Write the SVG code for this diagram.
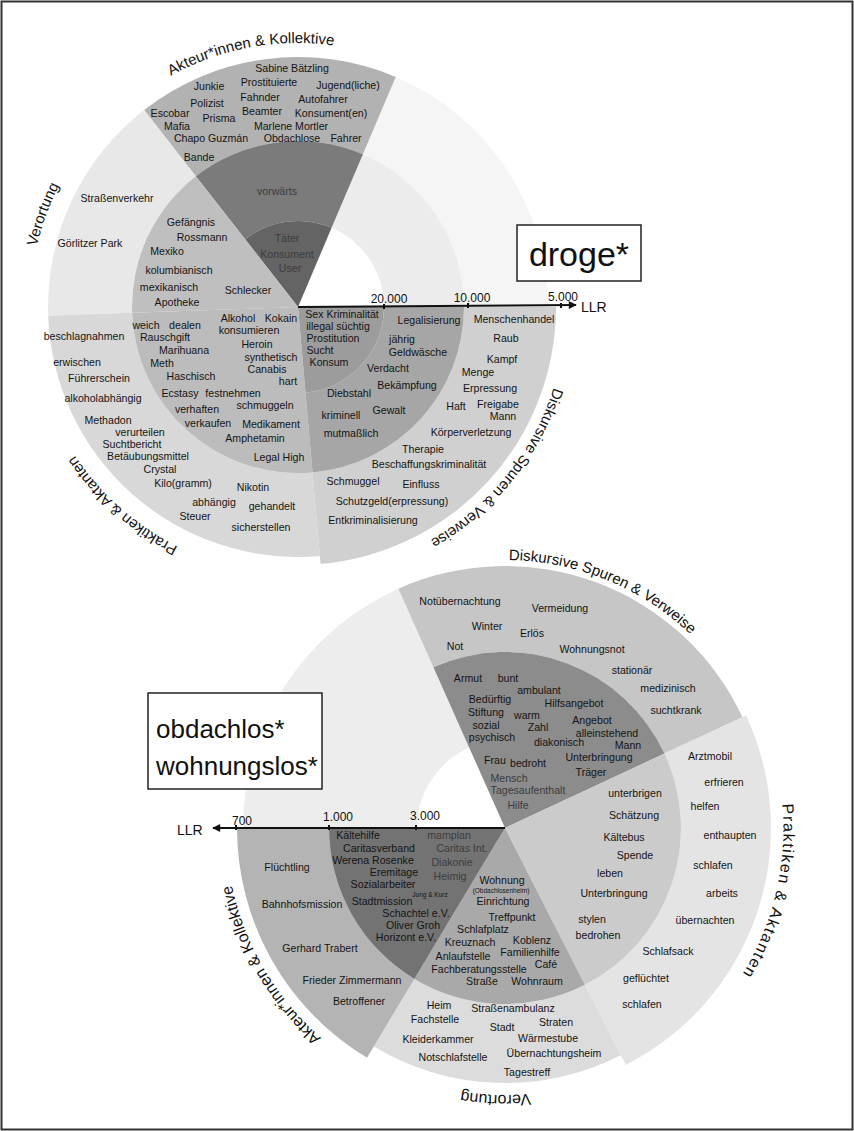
<svg xmlns="http://www.w3.org/2000/svg" width="854" height="1131" viewBox="0 0 854 1131">
<style>
.t{font-family:"Liberation Sans",Arial,sans-serif;font-size:10.6px;text-anchor:middle;fill:#141414}
.dim{fill:#3c3c3c}
.sm{font-size:6.5px}
.lab{font-family:"Liberation Sans",Arial,sans-serif;font-size:15px;fill:#111}
.lab2{font-family:"Liberation Sans",Arial,sans-serif;font-size:16px;fill:#111}
.ax{font-family:"Liberation Sans",Arial,sans-serif;font-size:12px;text-anchor:middle;fill:#111}
.llr{font-family:"Liberation Sans",Arial,sans-serif;font-size:14px;fill:#111}
.big{font-family:"Liberation Sans",Arial,sans-serif;fill:#111}
.axis{stroke:#111;stroke-width:2;fill:none}
.tick{stroke:#111;stroke-width:2}
.box{fill:#fff;stroke:#222;stroke-width:1.5}
</style>
<defs>
<marker id="arr" viewBox="0 0 10 10" refX="9" refY="5" markerWidth="9" markerHeight="8" markerUnits="userSpaceOnUse" orient="auto">
<path d="M0,0 L10,5 L0,10 z" fill="#111"/>
</marker>
<path id="pAk1" d="M68.2,177 A264,264 0 0 1 465.9,103.3"/>
<path id="pVe1" d="M65.9,441 A268,268 0 0 1 206.3,55.2"/>
<path id="pPr1" d="M337.6,572.1 A268,268 0 0 1 30.1,300"/>
<path id="pDi1" d="M561.1,255.9 A268,268 0 0 1 302.7,575"/>
<path id="pDi2" d="M380.4,590.7 A268,268 0 0 1 760.3,746.5"/>
<path id="pPr2" d="M749.4,695.3 A279,279 0 0 1 664.0,1057.6"/>
<path id="pVe2" d="M703.4,1006.6 A267,267 0 0 1 294.6,992.4"/>
<path id="pAk2" d="M458,1103 A279,279 0 0 1 242.3,734"/>
</defs>
<rect x="0" y="0" width="854" height="1131" fill="#fff"/>
<rect x="1.5" y="1.5" width="851" height="1128" fill="none" stroke="#333" stroke-width="2"/>

<!-- ========== TOP CHART: droge* ========== -->
<g id="chart-droge">
<g id="top-empty">
<path d="M395.7,76.9 A250,250 0 0 1 548,307 L464,307 A166,166 0 0 0 362.9,154.2 Z" fill="#f5f5f5"/>
<path d="M362.9,154.2 A166,166 0 0 1 464,307 L384,307 A86,86 0 0 0 331.6,227.8 Z" fill="#ececec"/>
</g>

<g id="top-akteur">
<path d="M144.1,110 A250,250 0 0 1 395.7,76.9 L362.9,154.2 A166,166 0 0 0 195.8,176.2 Z" fill="#b2b2b2"/>
<path d="M195.8,176.2 A166,166 0 0 1 362.9,154.2 L331.6,227.8 A86,86 0 0 0 245.1,239.2 Z" fill="#7b7b7b"/>
<path d="M298,307 L245.1,239.2 A86,86 0 0 1 331.6,227.8 Z" fill="#646464"/>
<text class="lab"><textPath href="#pAk1" startOffset="50%" text-anchor="middle">Akteur*innen &amp; Kollektive</textPath></text>
<text class="t" x="292" y="72">Sabine Bätzling</text>
<text class="t" x="209" y="90">Junkie</text>
<text class="t" x="269" y="86">Prostituierte</text>
<text class="t" x="348" y="89">Jugend(liche)</text>
<text class="t" x="207" y="107">Polizist</text>
<text class="t" x="260" y="101">Fahnder</text>
<text class="t" x="323" y="103">Autofahrer</text>
<text class="t" x="170" y="117">Escobar</text>
<text class="t" x="262" y="115">Beamter</text>
<text class="t" x="331" y="117">Konsument(en)</text>
<text class="t" x="177" y="130">Mafia</text>
<text class="t" x="219" y="122">Prisma</text>
<text class="t" x="291" y="130">Marlene Mortler</text>
<text class="t" x="211" y="142">Chapo Guzmán</text>
<text class="t" x="292" y="142">Obdachlose</text>
<text class="t" x="346" y="142">Fahrer</text>
<text class="t" x="199" y="161">Bande</text>
<text class="t dim" x="277" y="195">vorwärts</text>
<text class="t dim" x="287" y="242">Täter</text>
<text class="t dim" x="287" y="258">Konsument</text>
<text class="t dim" x="290" y="272">User</text>
</g>

<g id="top-verortung">
<path d="M48.2,315.7 A250,250 0 0 1 144.1,110 L195.8,176.2 A166,166 0 0 0 132.1,312.8 Z" fill="#e8e8e8"/>
<path d="M298,307 L132.1,312.8 A166,166 0 0 1 195.8,176.2 L245.1,239.2 Z" fill="#bfbfbf"/>
<text class="lab"><textPath href="#pVe1" startOffset="50%" text-anchor="middle">Verortung</textPath></text>
<text class="t" x="117" y="202">Straßenverkehr</text>
<text class="t" x="90" y="247">Görlitzer Park</text>
<text class="t" x="191" y="226">Gefängnis</text>
<text class="t" x="202" y="241">Rossmann</text>
<text class="t" x="167" y="255">Mexiko</text>
<text class="t" x="179" y="274">kolumbianisch</text>
<text class="t" x="169" y="291">mexikanisch</text>
<text class="t" x="177" y="306">Apotheke</text>
<text class="t" x="248" y="294">Schlecker</text>
</g>

<g id="top-praktiken">
<path d="M319.8,556 A250,250 0 0 1 48.2,315.7 L132.1,312.8 A166,166 0 0 0 312.5,472.4 Z" fill="#d8d8d8"/>
<path d="M298,307 L312.5,472.4 A166,166 0 0 1 132.1,312.8 Z" fill="#bcbcbc"/>
<text class="lab"><textPath href="#pPr1" startOffset="50%" text-anchor="middle">Praktiken &amp; Aktanten</textPath></text>
<text class="t" x="84" y="340">beschlagnahmen</text>
<text class="t" x="146" y="329">weich</text>
<text class="t" x="185" y="329">dealen</text>
<text class="t" x="165" y="341">Rauschgift</text>
<text class="t" x="238" y="322">Alkohol</text>
<text class="t" x="281" y="322">Kokain</text>
<text class="t" x="249" y="334">konsumieren</text>
<text class="t" x="257" y="348">Heroin</text>
<text class="t" x="184" y="354">Marihuana</text>
<text class="t" x="271" y="361">synthetisch</text>
<text class="t" x="77" y="366">erwischen</text>
<text class="t" x="162" y="367">Meth</text>
<text class="t" x="267" y="373">Canabis</text>
<text class="t" x="99" y="382">Führerschein</text>
<text class="t" x="191" y="380">Haschisch</text>
<text class="t" x="288" y="385">hart</text>
<text class="t" x="103" y="402">alkoholabhängig</text>
<text class="t" x="180" y="397">Ecstasy</text>
<text class="t" x="233" y="397">festnehmen</text>
<text class="t" x="197" y="413">verhaften</text>
<text class="t" x="265" y="409">schmuggeln</text>
<text class="t" x="108" y="424">Methadon</text>
<text class="t" x="208" y="427">verkaufen</text>
<text class="t" x="271" y="428">Medikament</text>
<text class="t" x="140" y="436">verurteilen</text>
<text class="t" x="255" y="442">Amphetamin</text>
<text class="t" x="132" y="448">Suchtbericht</text>
<text class="t" x="148" y="460">Betäubungsmittel</text>
<text class="t" x="279" y="461">Legal High</text>
<text class="t" x="160" y="473">Crystal</text>
<text class="t" x="183" y="487">Kilo(gramm)</text>
<text class="t" x="253" y="491">Nikotin</text>
<text class="t" x="214" y="506">abhängig</text>
<text class="t" x="272" y="510">gehandelt</text>
<text class="t" x="195" y="520">Steuer</text>
<text class="t" x="261" y="531">sicherstellen</text>
</g>

<g id="top-diskursiv">
<path d="M556,307 A258,258 0 0 1 320.5,564 L312.5,472.4 A166,166 0 0 0 464,307 Z" fill="#d0d0d0"/>
<path d="M464,307 A166,166 0 0 1 312.5,472.4 L305.5,392.7 A86,86 0 0 0 384,307 Z" fill="#a6a6a6"/>
<path d="M298,307 L384,307 A86,86 0 0 1 305.5,392.7 Z" fill="#9c9c9c"/>
<text class="lab"><textPath href="#pDi1" startOffset="50%" text-anchor="middle">Diskursive Spuren &amp; Verweise</textPath></text>
<text class="t" x="342" y="318">Sex Kriminalität</text>
<text class="t" x="338" y="330">illegal süchtig</text>
<text class="t" x="333" y="342">Prostitution</text>
<text class="t" x="320" y="354">Sucht</text>
<text class="t" x="329" y="366">Konsum</text>
<text class="t" x="429" y="324">Legalisierung</text>
<text class="t" x="402" y="343">jährig</text>
<text class="t" x="418" y="356">Geldwäsche</text>
<text class="t" x="388" y="372">Verdacht</text>
<text class="t" x="407" y="389">Bekämpfung</text>
<text class="t" x="349" y="397">Diebstahl</text>
<text class="t" x="341" y="419">kriminell</text>
<text class="t" x="389" y="414">Gewalt</text>
<text class="t" x="351" y="437">mutmaßlich</text>
<text class="t" x="514" y="323">Menschenhandel</text>
<text class="t" x="506" y="342">Raub</text>
<text class="t" x="502" y="363">Kampf</text>
<text class="t" x="478" y="376">Menge</text>
<text class="t" x="490" y="392">Erpressung</text>
<text class="t" x="456" y="410">Haft</text>
<text class="t" x="498" y="408">Freigabe</text>
<text class="t" x="503" y="420">Mann</text>
<text class="t" x="471" y="436">Körperverletzung</text>
<text class="t" x="423" y="453">Therapie</text>
<text class="t" x="429" y="468">Beschaffungskriminalität</text>
<text class="t" x="353" y="485">Schmuggel</text>
<text class="t" x="421" y="488">Einfluss</text>
<text class="t" x="392" y="505">Schutzgeld(erpressung)</text>
<text class="t" x="373" y="524">Entkriminalisierung</text>
</g>

<g id="title-droge">
<rect class="box" x="517" y="225" width="124" height="56"/>
<text class="big" x="579" y="266" font-size="34" text-anchor="middle">droge*</text>
</g>
</g>

<!-- ========== BOTTOM CHART: obdachlos* wohnungslos* ========== -->
<g id="chart-obdachlos">
<g id="bot-empty">
<path d="M243,828 A262,262 0 0 1 398.4,588.7 L469.2,747.6 A88,88 0 0 0 417,828 Z" fill="#ededed"/>
</g>

<g id="bot-diskursiv">
<path d="M398.4,588.7 A262,262 0 0 1 742.5,717.3 L664.5,753.6 A176,176 0 0 0 433.4,667.2 Z" fill="#c6c6c6"/>
<path d="M505,828 L433.4,667.2 A176,176 0 0 1 664.5,753.6 Z" fill="#8c8c8c"/>
<text class="lab"><textPath href="#pDi2" startOffset="50%" text-anchor="middle">Diskursive Spuren &amp; Verweise</textPath></text>
<text class="t" x="460" y="605">Notübernachtung</text>
<text class="t" x="560" y="612">Vermeidung</text>
<text class="t" x="487" y="630">Winter</text>
<text class="t" x="532" y="637">Erlös</text>
<text class="t" x="455" y="650">Not</text>
<text class="t" x="592" y="653">Wohnungsnot</text>
<text class="t" x="632" y="674">stationär</text>
<text class="t" x="668" y="692">medizinisch</text>
<text class="t" x="676" y="714">suchtkrank</text>
<text class="t" x="468" y="682">Armut</text>
<text class="t" x="508" y="682">bunt</text>
<text class="t" x="490" y="703">Bedürftig</text>
<text class="t" x="539" y="694">ambulant</text>
<text class="t" x="574" y="707">Hilfsangebot</text>
<text class="t" x="486" y="716">Stiftung</text>
<text class="t" x="527" y="719">warm</text>
<text class="t" x="592" y="724">Angebot</text>
<text class="t" x="486" y="729">sozial</text>
<text class="t" x="538" y="731">Zahl</text>
<text class="t" x="607" y="737">alleinstehend</text>
<text class="t" x="492" y="741">psychisch</text>
<text class="t" x="559" y="746">diakonisch</text>
<text class="t" x="628" y="749">Mann</text>
<text class="t" x="495" y="764">Frau</text>
<text class="t" x="528" y="767">bedroht</text>
<text class="t" x="599" y="761">Unterbringung</text>
<text class="t" x="591" y="776">Träger</text>
<text class="t dim" x="509" y="782">Mensch</text>
<text class="t dim" x="528" y="794">Tagesaufenthalt</text>
<text class="t dim" x="518" y="809">Hilfe</text>
</g>

<g id="bot-praktiken">
<path d="M746.1,715.6 A266,266 0 0 1 625.8,1065 L584.9,984.8 A176,176 0 0 0 664.5,753.6 Z" fill="#e4e4e4"/>
<path d="M505,828 L664.5,753.6 A176,176 0 0 1 584.9,984.8 Z" fill="#cbcbcb"/>
<text class="lab2" letter-spacing="1.5"><textPath href="#pPr2" startOffset="50%" text-anchor="middle">Praktiken &amp; Aktanten</textPath></text>
<text class="t" x="635" y="797">unterbrigen</text>
<text class="t" x="634" y="819">Schätzung</text>
<text class="t" x="624" y="841">Kältebus</text>
<text class="t" x="635" y="859">Spende</text>
<text class="t" x="610" y="877">leben</text>
<text class="t" x="614" y="897">Unterbringung</text>
<text class="t" x="592" y="923">stylen</text>
<text class="t" x="598" y="939">bedrohen</text>
<text class="t" x="710" y="760">Arztmobil</text>
<text class="t" x="724" y="786">erfrieren</text>
<text class="t" x="705" y="810">helfen</text>
<text class="t" x="730" y="839">enthaupten</text>
<text class="t" x="713" y="869">schlafen</text>
<text class="t" x="722" y="897">arbeits</text>
<text class="t" x="705" y="924">übernachten</text>
<text class="t" x="668" y="955">Schlafsack</text>
<text class="t" x="646" y="982">geflüchtet</text>
<text class="t" x="642" y="1008">schlafen</text>
</g>

<g id="bot-verortung">
<path d="M620.8,1055.2 A255,255 0 0 1 373.7,1046.6 L414.4,978.9 A176,176 0 0 0 584.9,984.8 Z" fill="#dcdcdc"/>
<path d="M505,828 L584.9,984.8 A176,176 0 0 1 414.4,978.9 Z" fill="#a9a9a9"/>
<text class="lab2"><textPath href="#pVe2" startOffset="50%" text-anchor="middle">Verortung</textPath></text>
<text class="t" x="502" y="884">Wohnung</text>
<text class="t sm" x="501" y="892.5">(Obdachlosenheim)</text>
<text class="t" x="503" y="905">Einrichtung</text>
<text class="t" x="512" y="921">Treffpunkt</text>
<text class="t" x="483" y="933">Schlafplatz</text>
<text class="t" x="470" y="946">Kreuznach</text>
<text class="t" x="532" y="944">Koblenz</text>
<text class="t" x="530" y="956">Familienhilfe</text>
<text class="t" x="463" y="960">Anlaufstelle</text>
<text class="t" x="546" y="968">Café</text>
<text class="t" x="479" y="973">Fachberatungsstelle</text>
<text class="t" x="482" y="985">Straße</text>
<text class="t" x="537" y="985">Wohnraum</text>
<text class="t" x="439" y="1009">Heim</text>
<text class="t" x="513" y="1012">Straßenambulanz</text>
<text class="t" x="435" y="1023">Fachstelle</text>
<text class="t" x="502" y="1031">Stadt</text>
<text class="t" x="556" y="1026">Straten</text>
<text class="t" x="438" y="1043">Kleiderkammer</text>
<text class="t" x="548" y="1042">Wärmestube</text>
<text class="t" x="453" y="1061">Notschlafstelle</text>
<text class="t" x="554" y="1057">Übernachtungsheim</text>
<text class="t" x="527" y="1076">Tagestreff</text>
</g>

<g id="bot-akteur">
<path d="M367,1057.7 A268,268 0 0 1 237,828 L329,828 A176,176 0 0 0 414.4,978.9 Z" fill="#b4b4b4"/>
<path d="M505,828 L414.4,978.9 A176,176 0 0 1 329,828 Z" fill="#737373"/>
<text class="lab2"><textPath href="#pAk2" startOffset="50%" text-anchor="middle">Akteur*innen &amp; Kollektive</textPath></text>
<text class="t" x="287" y="871">Flüchtling</text>
<text class="t" x="302" y="908">Bahnhofsmission</text>
<text class="t" x="320" y="952">Gerhard Trabert</text>
<text class="t" x="352" y="984">Frieder Zimmermann</text>
<text class="t" x="359" y="1005">Betroffener</text>
<text class="t" x="358" y="839">Kältehilfe</text>
<text class="t" x="379" y="852">Caritasverband</text>
<text class="t" x="373" y="864">Werena Rosenke</text>
<text class="t" x="394" y="876">Eremitage</text>
<text class="t" x="383" y="888">Sozialarbeiter</text>
<text class="t sm" x="430" y="897">Jung &amp; Kurz</text>
<text class="t" x="382" y="905">Stadtmission</text>
<text class="t" x="416" y="917">Schachtel e.V.</text>
<text class="t" x="413" y="929">Oliver Groh</text>
<text class="t" x="406" y="941">Horizont e.V.</text>
<text class="t dim" x="449" y="839">mamplan</text>
<text class="t dim" x="462" y="852">Caritas Int.</text>
<text class="t dim" x="452" y="866">Diakonie</text>
<text class="t dim" x="450" y="880">Heimig</text>
</g>

<g id="title-obdachlos">
<rect class="box" x="148" y="693" width="174" height="96"/>
<text class="big" x="156" y="738" font-size="26">obdachlos*</text>
<text class="big" x="156" y="775" font-size="26">wohnungslos*</text>
</g>
</g>

<!-- ========== CONNECTORS (LLR axes) ========== -->
<g id="connectors">
<line class="axis" x1="298" y1="307" x2="576" y2="305" marker-end="url(#arr)"/>
<line class="tick" x1="384" y1="304" x2="384" y2="309"/>
<line class="tick" x1="468" y1="303" x2="468" y2="308"/>
<line class="tick" x1="561" y1="303" x2="561" y2="308"/>
<text class="ax" x="389" y="303">20.000</text>
<text class="ax" x="472" y="302">10.000</text>
<text class="ax" x="563" y="301">5.000</text>
<text class="llr" x="581" y="312">LLR</text>

<line class="axis" x1="505" y1="828" x2="213" y2="828" marker-end="url(#arr)"/>
<line class="tick" x1="416" y1="825" x2="416" y2="830"/>
<line class="tick" x1="329" y1="825" x2="329" y2="830"/>
<line class="tick" x1="236" y1="825" x2="236" y2="830"/>
<text class="ax" x="425" y="820">3.000</text>
<text class="ax" x="338" y="821">1.000</text>
<text class="ax" x="242" y="825">700</text>
<text class="llr" x="177" y="835">LLR</text>
</g>
</svg>
